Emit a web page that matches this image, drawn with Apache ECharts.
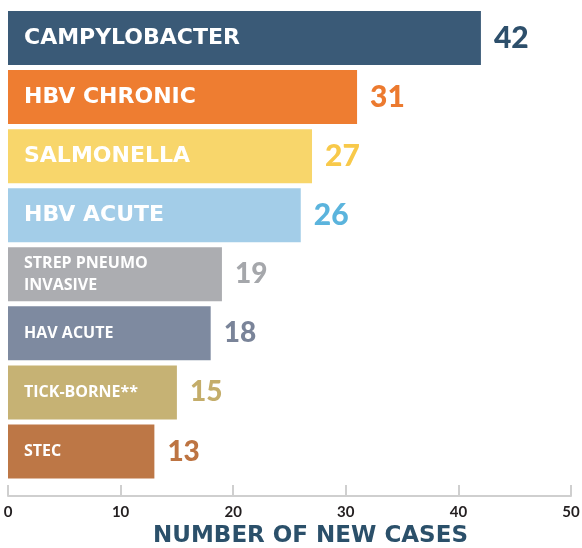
<!DOCTYPE html>
<html>
<head>
<meta charset="utf-8">
<script src="https://cdn.jsdelivr.net/npm/echarts@6/dist/echarts.min.js"></script>
<style>
  html, body { margin: 0; padding: 0; background: #fff; }
  #chart { width: 582px; height: 548px; }
</style>
</head>
<body>
<div id="chart"></div>
<script>
// data
const categories = ['CAMPYLOBACTER', 'HBV CHRONIC', 'SALMONELLA', 'HBV ACUTE',
  'STREP PNEUMO\nINVASIVE', 'HAV ACUTE', 'TICK-BORNE**', 'STEC'];
const newCases = [42, 31, 27, 26, 19, 18, 15, 13];
const xTicks = [0, 10, 20, 30, 40, 50];

// colours per bar / per value label
const barColors = ['#3a5a77', '#ee7d31', '#f8d66b', '#a3cde8', '#acadb1', '#7e8aa0', '#c6b274', '#bd7746'];
const valueColors = ['#2d4f6b', '#ec7a2f', '#f8c94a', '#5bb4dd', '#a5a7ab', '#7a8499', '#c4ad6a', '#bd7442'];

const chart = echarts.init(document.getElementById('chart'));

const option = {
  animation: false,
  grid: { left: 8, right: 11, top: 8.5, bottom: 67, containLabel: false, outerBoundsMode: 'none' },
  xAxis: {
    type: 'value',
    min: xTicks[0],
    max: xTicks[xTicks.length - 1],
    interval: 10,
    offset: 15,
    splitLine: { show: false },
    axisLine: { show: true, lineStyle: { color: '#cfcfcf', width: 2 } },
    axisTick: { show: true, inside: true, length: 11, lineStyle: { color: '#cfcfcf', width: 2 } },
    axisLabel: { color: '#231f20', fontFamily: 'Lato', fontWeight: 'bold', fontSize: 15, margin: 9 },
    name: 'NUMBER OF NEW CASES',
    nameLocation: 'middle',
    nameGap: 29,
    nameTextStyle: {
      color: '#2b506a', fontFamily: 'DejaVu Sans', fontWeight: 'bold', fontSize: 23,
      padding: [0, 0, 0, 42]
    }
  },
  yAxis: {
    type: 'category',
    data: categories,
    inverse: true,
    z: 10,
    axisLine: { show: false },
    axisTick: { show: false },
    axisLabel: {
      inside: true,
      margin: 16,
      formatter: (v, i) => (i < 4 ? '{big|' + v + '}' : '{small|' + v + '}'),
      rich: {
        big: { color: '#fff', fontFamily: 'DejaVu Sans', fontWeight: 'bold', fontSize: 22 },
        small: { color: '#fff', fontFamily: 'Open Sans', fontWeight: 'bold', fontSize: 16, lineHeight: 22 }
      }
    }
  },
  series: [{
    type: 'bar',
    barWidth: 54,
    data: newCases.map((v, i) => ({
      value: v,
      itemStyle: { color: barColors[i] },
      label: { color: valueColors[i], fontSize: i < 4 ? 30 : 28 }
    })),
    label: {
      show: true,
      position: 'right',
      distance: 13,
      fontFamily: 'Lato',
      fontWeight: 900
    }
  }]
};

option && chart.setOption(option);
</script>
</body>
</html>
